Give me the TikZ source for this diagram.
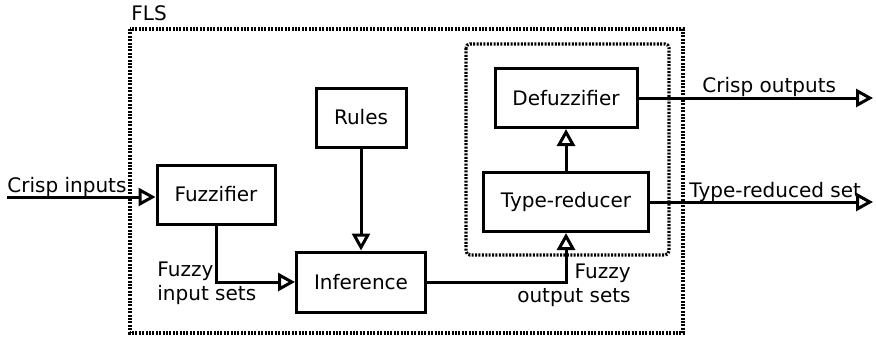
\documentclass[tikz,border=0pt]{standalone}
\usepackage{fontspec}
\setmainfont{DejaVu Sans}
\usetikzlibrary{arrows.meta}
\begin{document}
\begin{tikzpicture}[x=0.5pt,y=-0.5pt,
  blk/.style={draw, line width=1.5pt, minimum height=29.5pt, inner sep=0pt, font=\fontsize{10}{12}\selectfont},
  conn/.style={line width=1.5pt, -{Triangle[open,length=8.5pt,width=9pt]}},
  dotbox/.style={line width=1.6pt, dash pattern=on 1pt off 0.7pt},
  lbl/.style={inner sep=0pt, font=\fontsize{10}{12}\selectfont}]
\useasboundingbox (0,0) rectangle (876,338);
\draw[dotbox] (130,29) rectangle (683,333);
\draw[dotbox, rounded corners=2pt] (466,44) rectangle (669,255);
\node[lbl, anchor=base west] (fls) at (131,20) {FLS};
\node[blk, minimum width=45pt] (rules) at (361,117.5) {Rules};
\node[blk, minimum width=59pt] (fuzz) at (216,194.5) {Fuzzifier};
\node[blk, minimum width=64.5pt, minimum height=30pt] (inf) at (361,282) {Inference};
\node[blk, minimum width=71pt] (def) at (566,98) {Defuzzifier};
\node[blk, minimum width=82.5pt] (tr) at (566,202) {Type-reducer};
\coordinate (cin) at (7,197);
\coordinate (cout) at (873,98);
\coordinate (trout) at (873,202);
\draw[conn] (cin) -- (cin -| fuzz.west);
\draw[conn] (fuzz.south) |- (inf.west);
\draw[conn] (rules.south) -- (inf.north);
\draw[conn] (inf.east) -| (tr.south);
\draw[conn] (tr.north) -- (def.south);
\draw[conn] (def.east) -- (cout);
\draw[conn] (tr.east) -- (trout);
\node[lbl, anchor=base west] (lcin) at (7,192) {Crisp inputs};
\node[lbl, anchor=base west] (lcout) at (702,92) {Crisp outputs};
\node[lbl, anchor=base west] (ltr) at (689,197) {Type-reduced set};
\node[lbl, anchor=base west, align=left] (lfin) at (157,300) {Fuzzy\\input sets};
\node[lbl, anchor=base east, align=right] (lfout) at (631,302) {Fuzzy\\output sets};
\end{tikzpicture}
\end{document}
